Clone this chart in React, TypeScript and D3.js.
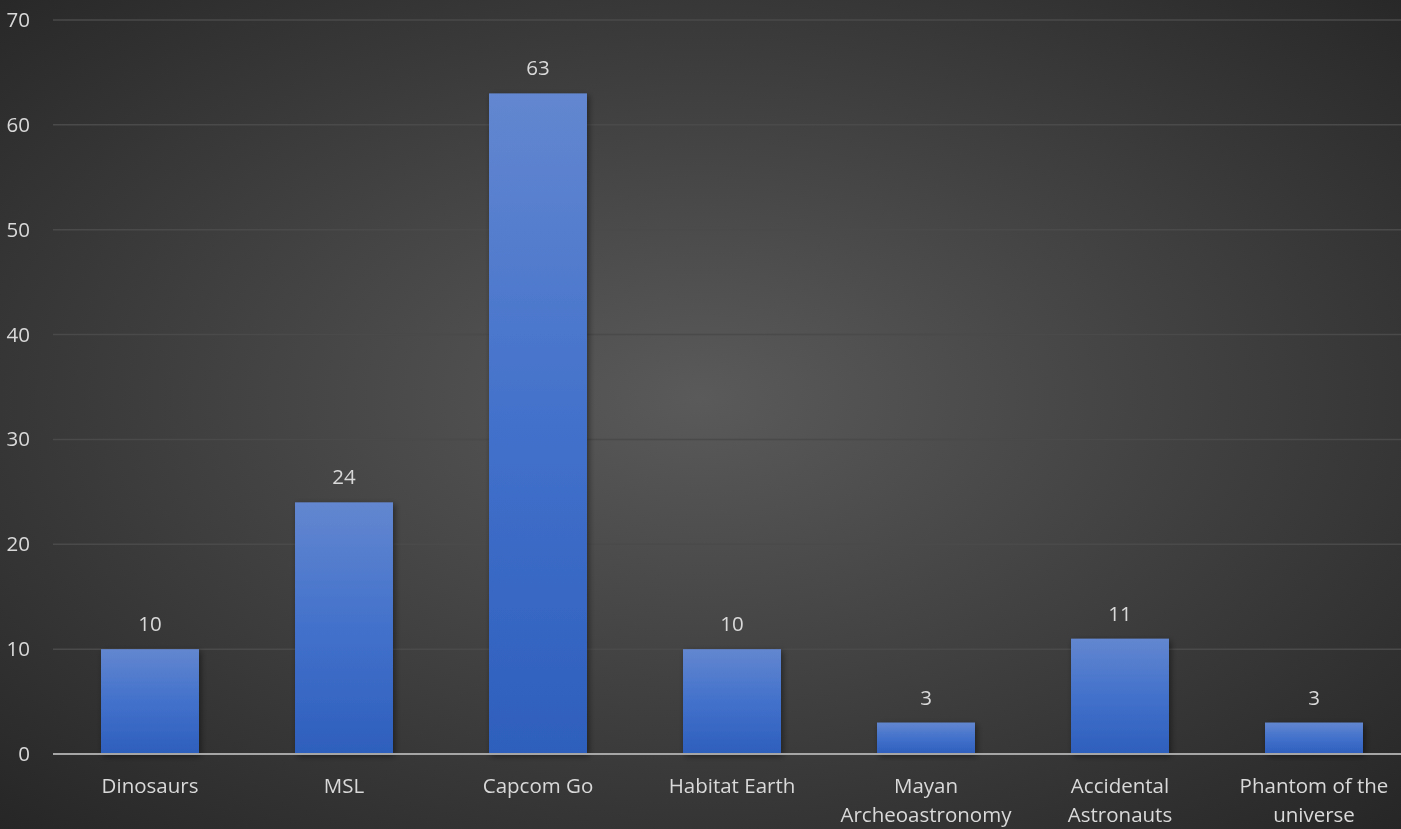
import React from "react";
import * as d3 from "d3";

const categories = [
  "Dinosaurs",
  "MSL",
  "Capcom Go",
  "Habitat Earth",
  "Mayan Archeoastronomy",
  "Accidental Astronauts",
  "Phantom of the universe",
];
const categoryLines = [
  ["Dinosaurs"],
  ["MSL"],
  ["Capcom Go"],
  ["Habitat Earth"],
  ["Mayan", "Archeoastronomy"],
  ["Accidental", "Astronauts"],
  ["Phantom of the", "universe"],
];
const values = [10, 24, 63, 10, 3, 11, 3];
const yTicks = [0, 10, 20, 30, 40, 50, 60, 70];

const W = 1401;
const H = 829;
const FONT = "'Open Sans', 'Noto Sans', sans-serif";
const FS = 20.5;

export default function App() {
  const x = d3
    .scaleBand<string>()
    .domain(categories)
    .range([53, 1411])
    .paddingInner(0.495)
    .paddingOuter(0.2475);
  const y = d3.scaleLinear().domain([0, 70]).range([754, 20]);

  return (
    <svg
      width={W}
      height={H}
      style={{ position: "fixed", left: 0, top: 0, display: "block" }}
    >
      <defs>
        <radialGradient id="bg" cx="50%" cy="48%" r="75%">
          <stop offset="0%" stopColor="#5a5a5a" />
          <stop offset="100%" stopColor="#242424" />
        </radialGradient>
        <linearGradient id="bar" x1="0" y1="0" x2="0" y2="1">
          <stop offset="0%" stopColor="#6387d0" />
          <stop offset="50%" stopColor="#4271cb" />
          <stop offset="100%" stopColor="#2e5fbd" />
        </linearGradient>
        <filter id="shadow" x="-20%" y="-20%" width="140%" height="140%">
          <feGaussianBlur in="SourceAlpha" stdDeviation="3" />
          <feOffset dx="2" dy="2" result="o" />
          <feComponentTransfer>
            <feFuncA type="linear" slope="0.45" />
          </feComponentTransfer>
          <feMerge>
            <feMergeNode />
            <feMergeNode in="SourceGraphic" />
          </feMerge>
        </filter>
      </defs>
      <rect x={0} y={0} width={W} height={H} fill="url(#bg)" />
      {yTicks.map((t) => (
        <g key={t}>
          {t > 0 && (
            <line
              x1={53}
              x2={W}
              y1={y(t)}
              y2={y(t)}
              stroke="#4a4a4a"
              strokeWidth={1.5}
            />
          )}
          <text
            x={30}
            y={y(t) + 7}
            textAnchor="end"
            fill="#d9d9d9"
            fontFamily={FONT}
            fontSize={FS}
          >
            {t}
          </text>
        </g>
      ))}
      {categories.map((c, i) => {
        const bx = x(c)!;
        const bw = x.bandwidth();
        const top = y(values[i]);
        const cx = bx + bw / 2;
        return (
          <g key={c}>
            <rect
              x={bx}
              y={top}
              width={bw}
              height={y(0) - top}
              fill="url(#bar)"
              filter="url(#shadow)"
            />
            <text
              x={cx}
              y={top - 18}
              textAnchor="middle"
              fill="#d9d9d9"
              fontFamily={FONT}
              fontSize={FS}
            >
              {values[i]}
            </text>
            {categoryLines[i].map((ln, k) => (
              <text
                key={k}
                x={cx}
                y={793 + k * 29}
                textAnchor="middle"
                fill="#d9d9d9"
                fontFamily={FONT}
                fontSize={FS}
              >
                {ln}
              </text>
            ))}
          </g>
        );
      })}
      <line
        x1={53}
        x2={W}
        y1={y(0)}
        y2={y(0)}
        stroke="#a6a6a6"
        strokeWidth={2}
      />
    </svg>
  );
}
